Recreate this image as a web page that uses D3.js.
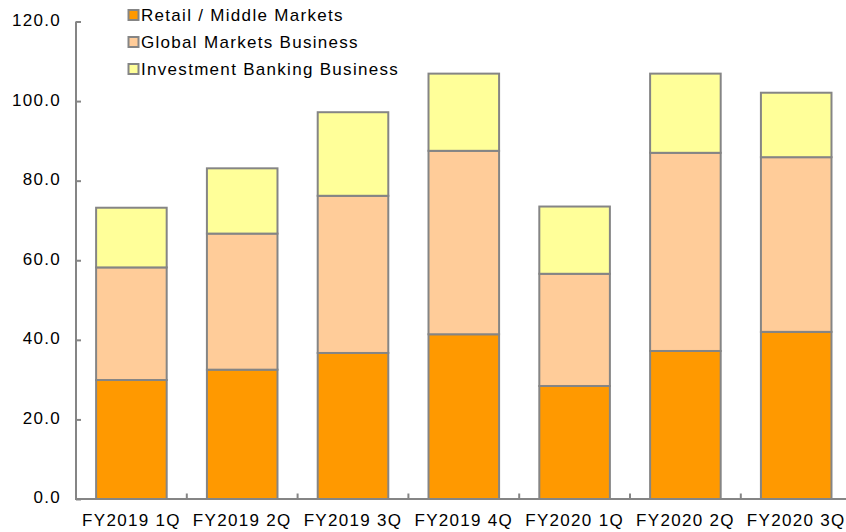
<!DOCTYPE html>
<html>
<head>
<meta charset="utf-8">
<script src="https://cdn.jsdelivr.net/npm/d3@7"></script>
<style>
  body { margin: 0; background: #fff; }
  text { font-family: "Liberation Sans", Arial, sans-serif; font-size: 17px; fill: #000; letter-spacing: 1.3px; }
</style>
</head>
<body>
<script>
// categories and series
var quarters = ["FY2019 1Q", "FY2019 2Q", "FY2019 3Q", "FY2019 4Q", "FY2020 1Q", "FY2020 2Q", "FY2020 3Q"];
var retail = [29.9, 32.5, 36.7, 41.4, 28.4, 37.2, 42.0];
var globalMkts = [28.3, 34.2, 39.5, 46.1, 28.2, 49.8, 43.9];
var invBanking = [15.0, 16.4, 21.0, 19.4, 16.9, 19.9, 16.2];
var seriesNames = ["Retail / Middle Markets", "Global Markets Business", "Investment Banking Business"];
var seriesColors = ["#ff9900", "#ffcc99", "#ffff99"];
var yTicks = [0, 20, 40, 60, 80, 100, 120];

var width = 846, height = 532;
var plotLeft = 76, plotRight = 851.6, plotBottom = 499, plotTop = 21.5;

var svg = d3.select("body").append("svg")
    .attr("width", width)
    .attr("height", height);

var rows = quarters.map(function (q, i) {
    return { q: q, retail: retail[i], global: globalMkts[i], ib: invBanking[i] };
});
var stack = d3.stack().keys(["retail", "global", "ib"])(rows);

// band for each quarter, the bar takes the middle part of it
var x = d3.scaleBand()
    .domain(quarters)
    .range([plotLeft, plotRight])
    .padding(0);
var barFrac = 0.637;
var barW = x.bandwidth() * barFrac;
var barOff = (x.bandwidth() - barW) / 2;

var y = d3.scaleLinear()
    .domain([0, 120])
    .range([plotBottom, plotTop]);

// bars
svg.append("g").selectAll("g")
    .data(stack)
    .enter().append("g")
    .attr("fill", function (d, i) { return seriesColors[i]; })
    .selectAll("rect")
    .data(function (d) { return d; })
    .enter().append("rect")
    .attr("x", function (d) { return x(d.data.q) + barOff; })
    .attr("y", function (d) { return y(d[1]); })
    .attr("width", barW)
    .attr("height", function (d) { return y(d[0]) - y(d[1]); })
    .attr("stroke", "#858585")
    .attr("stroke-width", 2);

// y axis
var yAxis = d3.axisRight(y)
    .tickValues(yTicks)
    .tickSize(5)
    .tickFormat(function () { return ""; });
var yg = svg.append("g")
    .attr("transform", "translate(" + plotLeft + ",0)")
    .call(yAxis);
yg.select(".domain").remove();
yg.selectAll(".tick line").attr("stroke", "#858585").attr("stroke-width", 2);
svg.append("line")
    .attr("x1", plotLeft).attr("x2", plotLeft)
    .attr("y1", y(120)).attr("y2", plotBottom + 1)
    .attr("stroke", "#858585").attr("stroke-width", 2);

svg.append("g").selectAll("text")
    .data(yTicks)
    .enter().append("text")
    .attr("x", 61)
    .attr("y", function (d) { return y(d) - 1.5; })
    .attr("dy", "0.35em")
    .attr("text-anchor", "end")
    .text(function (d) { return d.toFixed(1); });

// x axis: ticks between categories, pointing up
var xg = svg.append("g");
xg.append("line")
    .attr("x1", plotLeft).attr("x2", width)
    .attr("y1", plotBottom).attr("y2", plotBottom)
    .attr("stroke", "#858585").attr("stroke-width", 2);
xg.selectAll(".xt")
    .data(quarters.slice(1))
    .enter().append("line")
    .attr("class", "xt")
    .attr("x1", function (d) { return x(d); })
    .attr("x2", function (d) { return x(d); })
    .attr("y1", plotBottom)
    .attr("y2", plotBottom - 5.5)
    .attr("stroke", "#858585").attr("stroke-width", 2);
xg.selectAll("text")
    .data(quarters)
    .enter().append("text")
    .attr("x", function (d) { return x(d) + x.bandwidth() / 2; })
    .attr("y", 526)
    .attr("text-anchor", "middle")
    .text(function (d) { return d; });

// legend
var legend = svg.append("g").selectAll("g")
    .data(seriesNames)
    .enter().append("g")
    .attr("transform", function (d, i) { return "translate(128," + (15 + i * 27) + ")"; });
legend.append("rect")
    .attr("x", 0.5).attr("y", -5)
    .attr("width", 10).attr("height", 10)
    .attr("fill", function (d, i) { return seriesColors[i]; })
    .attr("stroke", "#858585").attr("stroke-width", 2);
legend.append("text")
    .attr("x", 13)
    .attr("y", 0)
    .attr("dy", "0.35em")
    .text(function (d) { return d; });
</script>
</body>
</html>
